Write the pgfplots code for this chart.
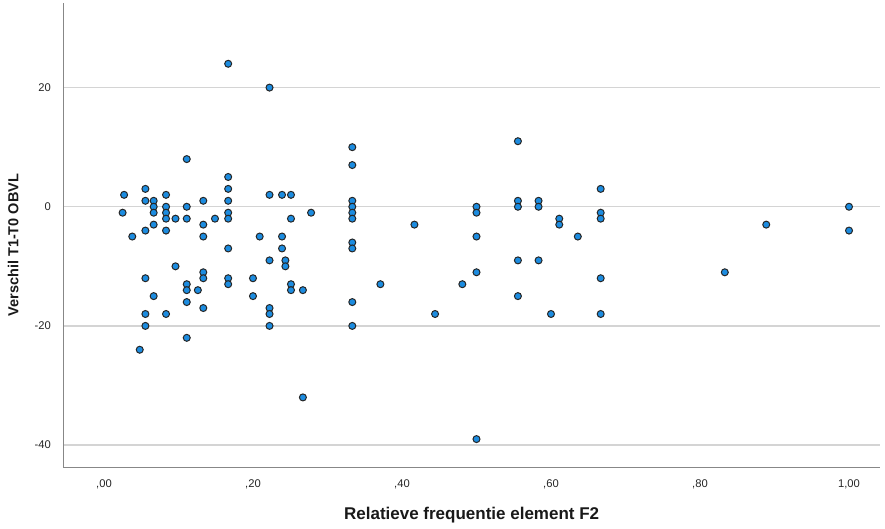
\documentclass[border=0pt]{standalone}
\usepackage{fontspec}
\setmainfont{Liberation Sans}
\usepackage{pgfplots}
\usepackage{pgfplotstable}
\pgfplotsset{compat=1.18}
\definecolor{dotfill}{RGB}{28,140,224}
\definecolor{axgray}{RGB}{135,135,135}
\definecolor{gridgray}{RGB}{212,212,212}
\pgfplotstableread{
x y
0.025 -1
0.027 2
0.038 -5
0.048 -24
0.0556 3
0.0556 1
0.0556 -4
0.0556 -12
0.0556 -18
0.0556 -20
0.0667 1
0.0667 0
0.0667 -1
0.0667 -3
0.0667 -15
0.0833 2
0.0833 0
0.0833 -1
0.0833 -2
0.0833 -4
0.0833 -18
0.096 -2
0.096 -10
0.1111 8
0.1111 0
0.1111 -2
0.1111 -13
0.1111 -14
0.1111 -16
0.1111 -22
0.126 -14
0.1333 1
0.1333 -3
0.1333 -5
0.1333 -11
0.1333 -12
0.1333 -17
0.149 -2
0.1667 24
0.1667 5
0.1667 3
0.1667 1
0.1667 -1
0.1667 -2
0.1667 -7
0.1667 -12
0.1667 -13
0.2 -12
0.2 -15
0.209 -5
0.2222 20
0.2222 2
0.2222 -9
0.2222 -17
0.2222 -18
0.2222 -20
0.239 2
0.239 -5
0.239 -7
0.2435 -9
0.2435 -10
0.251 2
0.251 -2
0.251 -13
0.251 -14
0.267 -14
0.267 -32
0.278 -1
0.3333 10
0.3333 7
0.3333 1
0.3333 0
0.3333 -1
0.3333 -2
0.3333 -6
0.3333 -7
0.3333 -16
0.3333 -20
0.371 -13
0.4167 -3
0.4444 -18
0.481 -13
0.5 0
0.5 -1
0.5 -5
0.5 -11
0.5 -39
0.5556 11
0.5556 1
0.5556 0
0.5556 -9
0.5556 -15
0.5833 1
0.5833 0
0.5833 -9
0.6 -18
0.6111 -2
0.6111 -3
0.636 -5
0.6667 3
0.6667 -1
0.6667 -2
0.6667 -12
0.6667 -18
0.8333 -11
0.8889 -3
1.0 0
1.0 -4
}\datatable
\begin{document}
\begin{tikzpicture}
\begin{axis}[
  at={(0pt,0pt)}, anchor=south west,
  scale only axis, width=816.7pt, height=464.7pt,
  xmin=-0.0546, xmax=1.0416, ymin=-43.8, ymax=34.2,
  axis x line*=bottom, axis y line*=left,
  axis line style={axgray, line width=1.3pt, -},
  xtick={0,0.2,0.4,0.6,0.8,1},
  xticklabels={{,00},{,20},{,40},{,60},{,80},{1,00}},
  ytick={-40,-20,0,20},
  yticklabels={-40,-20,0,20},
  major tick length=0pt,
  ymajorgrids,
  grid style={gridgray, line width=1.3pt},
  tick label style={font=\fontsize{11.2}{13}\selectfont, text=black!85},
  xticklabel style={yshift=-8pt},
  yticklabel style={xshift=-9pt},
  xlabel={Relatieve frequentie element F2},
  ylabel={Verschil T1-T0 OBVL},
  xlabel style={at={(axis description cs:0.5,0)}, anchor=north, yshift=-36pt,
    font=\bfseries\fontsize{17}{19}\selectfont, text=black!90},
  ylabel style={at={(axis description cs:-0.0506,0.479)}, anchor=south,
    font=\bfseries\fontsize{14.5}{16}\selectfont, text=black!90},
  clip=false,
]
\addplot[only marks, mark=*, mark size=3.5pt,
  mark options={fill=dotfill, draw=black!85, line width=1pt}]
  table[x=x, y=y] {\datatable};
\end{axis}
\path (-63.3pt,-61.3pt) rectangle (821.7pt,467.7pt);
\end{tikzpicture}
\end{document}
